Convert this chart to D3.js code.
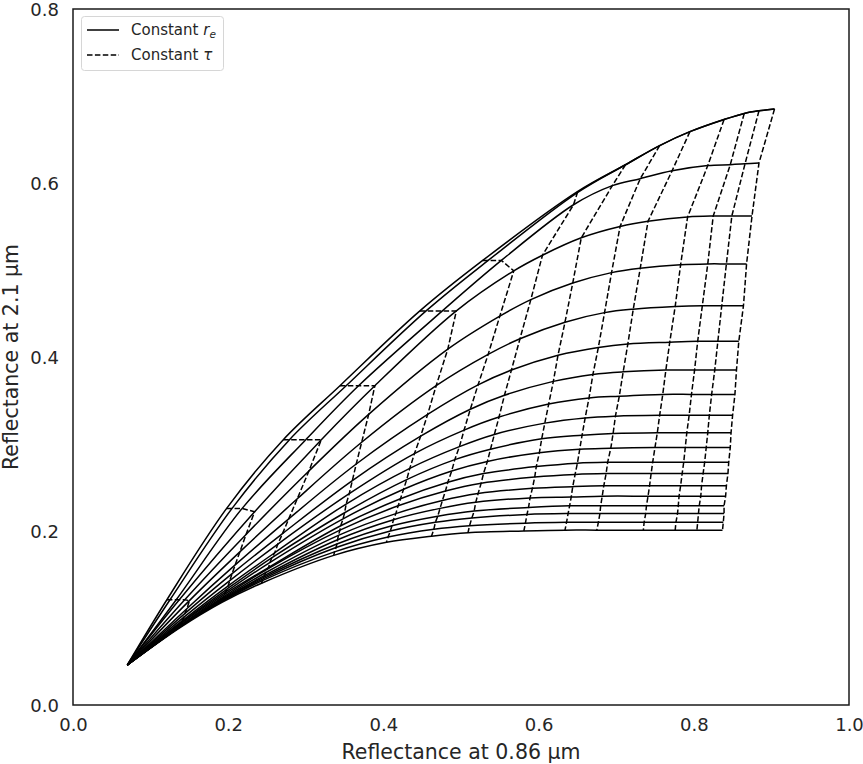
<!DOCTYPE html>
<html><head><meta charset="utf-8">
<script src="https://cdn.jsdelivr.net/npm/d3@7"></script>
<style>body{margin:0;background:#fff}text{font-family:"DejaVu Sans",sans-serif;fill:#262626}</style>
</head><body><svg id="c" width="863" height="764"></svg>
<script>
// Reflectance at 0.86 um: one row per constant-r_e line (top line first), columns = increasing tau (first column tau=0)
const r086 = [
 [0.070,0.121,0.198,0.271,0.344,0.447,0.528,0.650,0.712,0.756,0.795,0.839,0.865,0.884,0.904],
 [0.070,0.125,0.205,0.279,0.352,0.455,0.535,0.650,0.712,0.756,0.795,0.839,0.865,0.884,0.904],
 [0.070,0.133,0.218,0.300,0.368,0.476,0.552,0.645,0.695,0.731,0.772,0.818,0.847,0.866,0.884],
 [0.070,0.137,0.234,0.320,0.389,0.494,0.568,0.605,0.655,0.705,0.741,0.792,0.825,0.849,0.875],
 [0.070,0.144,0.223,0.304,0.381,0.483,0.550,0.590,0.644,0.694,0.731,0.783,0.818,0.842,0.868],
 [0.070,0.150,0.215,0.289,0.372,0.468,0.535,0.576,0.634,0.685,0.722,0.776,0.811,0.836,0.864],
 [0.070,0.147,0.209,0.278,0.365,0.457,0.522,0.565,0.625,0.677,0.715,0.769,0.805,0.831,0.858],
 [0.070,0.144,0.205,0.270,0.360,0.448,0.512,0.556,0.619,0.670,0.709,0.764,0.801,0.827,0.855],
 [0.070,0.143,0.202,0.264,0.356,0.440,0.504,0.549,0.613,0.665,0.704,0.760,0.797,0.823,0.853],
 [0.070,0.141,0.200,0.260,0.352,0.434,0.498,0.543,0.608,0.660,0.699,0.756,0.794,0.820,0.850],
 [0.070,0.140,0.198,0.256,0.350,0.430,0.492,0.538,0.604,0.656,0.696,0.753,0.791,0.818,0.848],
 [0.070,0.140,0.197,0.254,0.348,0.426,0.488,0.534,0.601,0.653,0.693,0.750,0.789,0.816,0.847],
 [0.070,0.139,0.195,0.252,0.345,0.422,0.483,0.529,0.597,0.650,0.689,0.747,0.787,0.814,0.845],
 [0.070,0.139,0.195,0.250,0.344,0.419,0.480,0.526,0.595,0.647,0.687,0.745,0.785,0.812,0.844],
 [0.070,0.139,0.194,0.248,0.342,0.416,0.476,0.522,0.592,0.644,0.684,0.743,0.783,0.810,0.842],
 [0.070,0.138,0.194,0.247,0.341,0.413,0.473,0.519,0.589,0.642,0.682,0.741,0.781,0.809,0.841],
 [0.070,0.138,0.193,0.246,0.340,0.411,0.470,0.517,0.587,0.640,0.680,0.739,0.780,0.807,0.839],
 [0.070,0.138,0.193,0.245,0.339,0.409,0.467,0.514,0.585,0.638,0.679,0.738,0.779,0.806,0.839],
 [0.070,0.138,0.192,0.244,0.337,0.406,0.465,0.511,0.583,0.636,0.677,0.736,0.777,0.805,0.838],
 [0.070,0.138,0.192,0.243,0.336,0.404,0.462,0.509,0.581,0.634,0.675,0.735,0.776,0.804,0.837]
];
// Reflectance at 2.1 um, same layout
const r21 = [
 [0.046,0.121,0.226,0.305,0.367,0.453,0.511,0.590,0.621,0.643,0.659,0.673,0.680,0.683,0.685],
 [0.046,0.121,0.226,0.305,0.367,0.453,0.511,0.589,0.621,0.643,0.659,0.673,0.680,0.683,0.685],
 [0.046,0.121,0.226,0.305,0.367,0.453,0.511,0.575,0.597,0.605,0.614,0.620,0.621,0.622,0.623],
 [0.046,0.121,0.222,0.305,0.367,0.453,0.499,0.517,0.537,0.550,0.556,0.561,0.562,0.562,0.562],
 [0.046,0.121,0.196,0.269,0.334,0.409,0.447,0.466,0.485,0.497,0.502,0.506,0.507,0.507,0.507],
 [0.046,0.120,0.176,0.237,0.302,0.367,0.403,0.421,0.440,0.451,0.455,0.458,0.459,0.459,0.459],
 [0.046,0.111,0.161,0.214,0.277,0.334,0.368,0.385,0.402,0.411,0.415,0.417,0.418,0.418,0.418],
 [0.046,0.105,0.151,0.197,0.258,0.309,0.340,0.356,0.372,0.380,0.383,0.385,0.385,0.385,0.385],
 [0.046,0.101,0.143,0.185,0.243,0.289,0.316,0.331,0.346,0.353,0.355,0.357,0.357,0.357,0.357],
 [0.046,0.097,0.137,0.175,0.231,0.272,0.297,0.311,0.324,0.330,0.332,0.333,0.333,0.333,0.333],
 [0.046,0.095,0.133,0.169,0.221,0.259,0.282,0.294,0.306,0.310,0.312,0.313,0.313,0.313,0.313],
 [0.046,0.094,0.130,0.164,0.214,0.248,0.269,0.280,0.290,0.294,0.295,0.296,0.296,0.296,0.296],
 [0.046,0.092,0.127,0.158,0.206,0.237,0.256,0.266,0.274,0.278,0.279,0.279,0.279,0.279,0.279],
 [0.046,0.091,0.125,0.156,0.201,0.229,0.246,0.255,0.262,0.265,0.266,0.266,0.266,0.266,0.266],
 [0.046,0.091,0.123,0.152,0.195,0.220,0.235,0.243,0.249,0.251,0.252,0.252,0.252,0.252,0.252],
 [0.046,0.090,0.122,0.149,0.190,0.213,0.226,0.233,0.238,0.239,0.240,0.240,0.240,0.240,0.240],
 [0.046,0.090,0.121,0.147,0.185,0.206,0.217,0.223,0.227,0.229,0.229,0.229,0.229,0.229,0.229],
 [0.046,0.090,0.120,0.145,0.181,0.200,0.210,0.215,0.219,0.220,0.220,0.220,0.220,0.220,0.220],
 [0.046,0.090,0.119,0.143,0.176,0.193,0.202,0.206,0.209,0.210,0.210,0.210,0.210,0.210,0.210],
 [0.046,0.089,0.118,0.140,0.172,0.187,0.194,0.198,0.200,0.201,0.201,0.201,0.201,0.201,0.201]
];
const xTicks = [0.0,0.2,0.4,0.6,0.8,1.0];
const yTicks = [0.0,0.2,0.4,0.6,0.8];
const xLabel = "Reflectance at 0.86 \u00b5m";
const yLabel = "Reflectance at 2.1 \u00b5m";
const legendItems = [{name:"Constant ", sym:"r", sub:"e", dash:null},{name:"Constant ", sym:"\u03c4", sub:"", dash:"5.5,2.4"}];

const svg = d3.select("#c");
const L=73,R=849,T=9,B=705;
const x = d3.scaleLinear().domain([0,1]).range([L,R]);
const y = d3.scaleLinear().domain([0,0.8]).range([B,T]);

const nLines = r086.length, nTau = r086[0].length;
const solid = d3.range(nLines).map(j=>d3.range(nTau).map(k=>[r086[j][k], r21[j][k]]));
const dashed = d3.range(1,nTau).map(k=>d3.range(nLines).map(j=>[r086[j][k], r21[j][k]]));

const g = svg.append("g");
const lineSolid = d3.line().x(d=>x(d[0])).y(d=>y(d[1])).curve(d3.curveCatmullRom.alpha(0.5));
const lineDash = d3.line().x(d=>x(d[0])).y(d=>y(d[1]));
g.selectAll("path.s").data(solid).join("path").attr("class","s")
 .attr("d",lineSolid).attr("fill","none").attr("stroke","#000").attr("stroke-width",1.5);
g.selectAll("path.d").data(dashed).join("path").attr("class","d")
 .attr("d",lineDash).attr("fill","none").attr("stroke","#000").attr("stroke-width",1.5)
 .attr("stroke-dasharray","5.5,2.4");

// axes
const ax = svg.append("g").attr("transform",`translate(0,${B})`)
 .call(d3.axisBottom(x).tickValues(xTicks).tickSize(0).tickPadding(13).tickFormat(d3.format(".1f")));
const ay = svg.append("g").attr("transform",`translate(${L},0)`)
 .call(d3.axisLeft(y).tickValues(yTicks).tickSize(0).tickPadding(14).tickFormat(d3.format(".1f")));
[ax,ay].forEach(a=>{a.select(".domain").remove();a.selectAll("text").attr("font-size",18).attr("font-family","DejaVu Sans").attr("fill","#262626");});
ay.selectAll("text").attr("dy","0.36em");

svg.append("rect").attr("x",L).attr("y",T).attr("width",R-L).attr("height",B-T)
 .attr("fill","none").attr("stroke","#1a1a1a").attr("stroke-width",1.5);

svg.append("text").attr("x",(L+R)/2).attr("y",759).attr("text-anchor","middle").attr("font-size",20.5).text(xLabel);
svg.append("text").attr("transform",`translate(18,${(T+B)/2}) rotate(-90)`).attr("text-anchor","middle").attr("font-size",20.5).text(yLabel);

// legend
const lg = svg.append("g");
lg.append("rect").attr("x",81.5).attr("y",16.5).attr("width",142).attr("height",54).attr("rx",3)
 .attr("fill","#fff").attr("fill-opacity",0.8).attr("stroke","#d6d6d6").attr("stroke-width",1);
legendItems.forEach((it,i)=>{
 const yy = 30 + i*25;
 lg.append("line").attr("x1",87).attr("x2",119).attr("y1",yy).attr("y2",yy)
  .attr("stroke","#000").attr("stroke-width",1.5).attr("stroke-dasharray",it.dash);
 const t = lg.append("text").attr("x",131).attr("y",yy+5).attr("font-size",15);
 t.append("tspan").text(it.name);
 t.append("tspan").attr("font-style","italic").text(it.sym);
 if(it.sub) t.append("tspan").attr("font-style","italic").attr("font-size",10.5).attr("dy",3).text(it.sub);
});
</script></body></html>
